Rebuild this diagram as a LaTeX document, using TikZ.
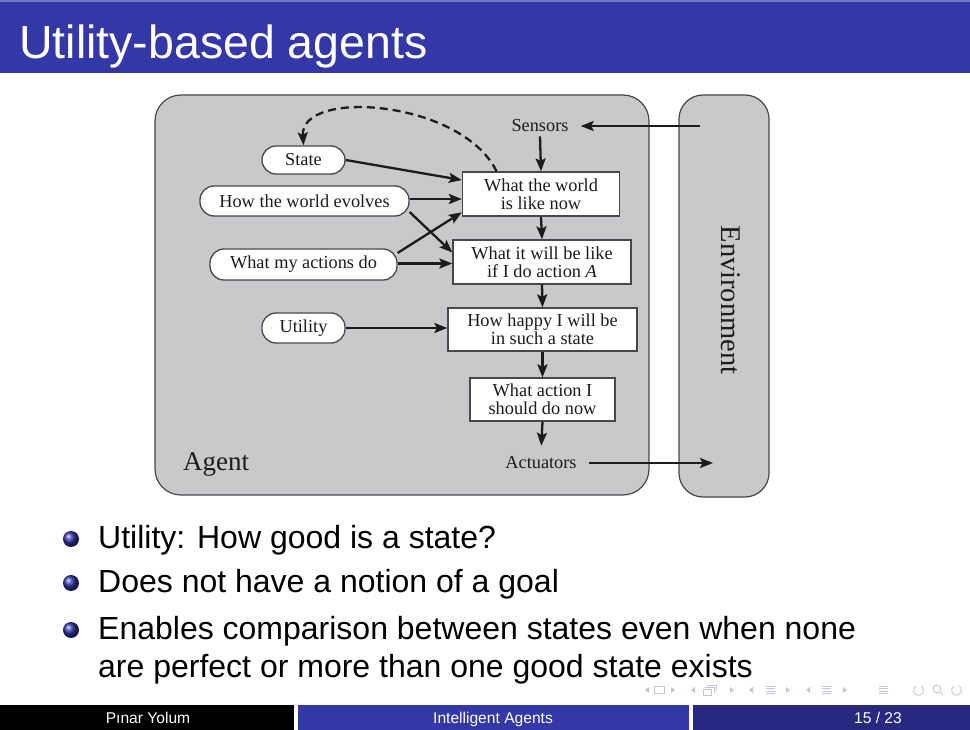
\documentclass[tikz,border=0pt]{standalone}
\usepackage{fontspec}
\setmainfont{Liberation Sans}
\newfontfamily\figfont{Liberation Serif}
\usetikzlibrary{arrows.meta,calc}

\definecolor{titleblue}{RGB}{51,55,168}
\definecolor{titleedge}{RGB}{120,122,200}
\definecolor{footdark}{RGB}{39,41,128}
\definecolor{panelgray}{RGB}{200,201,203}
\definecolor{edgegray}{RGB}{72,72,76}
\definecolor{ink}{RGB}{28,28,30}
\definecolor{navcol}{RGB}{196,196,230}
\definecolor{ballblue}{RGB}{45,45,160}

\tikzset{
  panel/.style={draw=edgegray, line width=1.2pt, fill=panelgray, rounded corners=26pt, inner sep=0pt},
  stepbox/.style={draw=edgegray, fill=white, line width=1.3pt, text=ink, align=center, inner sep=0pt,
    font=\figfont\fontsize{18.3}{18.3}\selectfont},
  pill/.style={draw=edgegray, fill=white, line width=1.3pt, rounded corners=14pt, text=ink, inner sep=0pt,
    font=\figfont\fontsize{18.3}{18.3}\selectfont},
  portname/.style={text=ink, inner xsep=12pt, inner ysep=4pt, anchor=base,
    font=\figfont\fontsize{18.3}{18.3}\selectfont},
  flow/.style={draw=ink, line width=2.3pt, -{Stealth[length=13pt,width=10pt,inset=2.5pt]}},
  feedback/.style={flow, dash pattern=on 8pt off 5pt},
  itemtext/.style={font=\fontsize{32}{38}\selectfont, anchor=base west, inner sep=0pt, text=black},
  itemball/.style={shading=ball, ball color=ballblue},
  footlabel/.style={font=\fontsize{15.6}{18}\selectfont, text=white, inner sep=0pt, anchor=base},
  navmark/.style={fill=navcol, draw=none},
  navline/.style={draw=navcol, line width=0.9pt},
}

\begin{document}
\begin{tikzpicture}[x=1pt,y=-1pt]
\useasboundingbox (0,0) rectangle (970,730);
\fill[white] (0,0) rectangle (970,730);

% title bar
\fill[titleedge] (0,0) rectangle (970,2);
\fill[titleblue] (0,2) rectangle (970,73);
\node[font=\fontsize{46.5}{50}\selectfont, text=white, anchor=base west, inner sep=0pt] (title) at (19,59) {Utility-based agents};

% agent and environment panels
\node[panel, minimum width=494pt, minimum height=400pt] (agentpanel) at (402,295) {};
\node[panel, rounded corners=24pt, minimum width=90pt, minimum height=402pt] (envpanel) at (724,296) {};
\node[font=\figfont\fontsize{28.5}{28.5}\selectfont, text=ink, rotate=-90, inner sep=0pt] (envname) at (731,300) {Environment};
\node[font=\figfont\fontsize{27}{27}\selectfont, text=ink, anchor=base west, inner sep=0pt] (agentname) at (183,470) {Agent};

% processing chain
\node[portname] (sensors) at (540,132) {Sensors};
\node[stepbox, minimum width=157pt, minimum height=44pt] (world) at (541,194) {What the world\\is like now};
\node[stepbox, minimum width=178pt, minimum height=44pt] (willbe) at (542,262) {What it will be like\\if I do action \textit{A}};
\node[stepbox, minimum width=189pt, minimum height=43pt] (happy) at (542.5,329.5) {How happy I will be\\in such a state};
\node[stepbox, minimum width=145pt, minimum height=43pt] (decide) at (542.5,399.5) {What action I\\should do now};
\node[portname] (actuators) at (541,468) {Actuators};

% knowledge held by the agent
\node[pill, minimum width=83pt, minimum height=28pt] (state) at (303.5,160) {State};
\node[pill, minimum width=209pt, minimum height=30pt] (evolves) at (304.5,201) {How the world evolves};
\node[pill, minimum width=187pt, minimum height=31pt] (acts) at (303.5,264.5) {What my actions do};
\node[pill, minimum width=83pt, minimum height=30pt] (utility) at (303.5,328) {Utility};

% percept and action links to the environment
\coordinate (percept) at (700,126);
\coordinate (effect) at (713,463);
\draw[flow] (percept) -- (percept -| sensors.east);
\draw[flow] (actuators.east |- effect) -- (effect);

% vertical chain
\draw[flow] (sensors.south) -- (world.north);
\draw[flow] (world.south) -- (willbe.north);
\draw[flow] (willbe.south) -- (happy.north);
\draw[flow] (happy.south) -- (decide.north);
\draw[flow, shorten >=6pt] (decide.south) -- (actuators.north);

% inputs from the knowledge pills
\coordinate (evoout) at ($(evolves.east)+(0,-2)$);
\coordinate (actout) at ($(acts.east)+(0,-1)$);
\draw[flow] (state.east) -- (world.170);
\draw[flow] (evoout) -- (evoout -| world.west);
\draw[flow] (evolves.-6) -- (willbe.174);
\draw[flow] (acts.7) -- (world.193);
\draw[flow] (actout) -- (actout -| willbe.west);
\draw[flow] (utility.east) -- (utility.east -| happy.west);

% state update loop
\draw[feedback] (world.153) .. controls (462,100) and (300,88) .. (state.north);

% bullet list
\shade[itemball] (71,539) circle (8);
\shade[itemball] (71,583) circle (8);
\shade[itemball] (71,630) circle (8);
\node[itemtext] (item1) at (98,548) {Utility: How good is a state?};
\node[itemtext] (item2) at (98,592) {Does not have a notion of a goal};
\node[itemtext] (item3) at (98,639) {Enables comparison between states even when none};
\node[itemtext] (item3b) at (98,677) {are perfect or more than one good state exists};

% navigation symbols
\begin{scope}[shift={(0,690)}]
  \fill[navmark] (645,0) -- (649,-3) -- (649,3) -- cycle;
  \draw[navline] (654,-3.5) rectangle (664,3.5);
  \fill[navmark] (675,0) -- (671,-3) -- (671,3) -- cycle;
  \fill[navmark] (691,0) -- (695,-3) -- (695,3) -- cycle;
  \draw[navline] (703,-1) rectangle (711,5);
  \draw[navline] (705,-3) -- (714,-3) -- (714,3);
  \draw[navline] (707,-5) -- (716,-5) -- (716,1);
  \fill[navmark] (734,0) -- (730,-3) -- (730,3) -- cycle;
  \fill[navmark] (749,0) -- (753,-3) -- (753,3) -- cycle;
  \foreach \yy in {-4,-1.5,1,3.5} \draw[navline, line width=0.7pt] (766,\yy) -- (775,\yy);
  \fill[navmark] (790,0) -- (786,-3) -- (786,3) -- cycle;
  \fill[navmark] (806,0) -- (810,-3) -- (810,3) -- cycle;
  \foreach \yy in {-4,-1.5,1,3.5} \draw[navline, line width=0.7pt] (822,\yy) -- (831,\yy);
  \fill[navmark] (847,0) -- (843,-3) -- (843,3) -- cycle;
  \foreach \yy in {-4,-1.5,1,3.5} \draw[navline, line width=0.7pt] (879,\yy) -- (888,\yy);
  \draw[navline] (921,-4) arc[start angle=60, end angle=-240, radius=5pt];
  \draw[navline] (937,-1) circle (4);
  \draw[navline] (940,2) -- (943,5);
  \draw[navline] (954,-4) arc[start angle=120, end angle=420, radius=5pt];
\end{scope}

% footer
\fill[black] (0,705) rectangle (294,730);
\fill[titleblue] (298,705) rectangle (689,730);
\fill[footdark] (693,705) rectangle (970,730);
\node[footlabel] (author) at (148,723) {Pınar Yolum};
\node[footlabel] (course) at (493,723) {Intelligent Agents};
\node[footlabel] (pages) at (878,723) {15 / 23};
\end{tikzpicture}
\end{document}
